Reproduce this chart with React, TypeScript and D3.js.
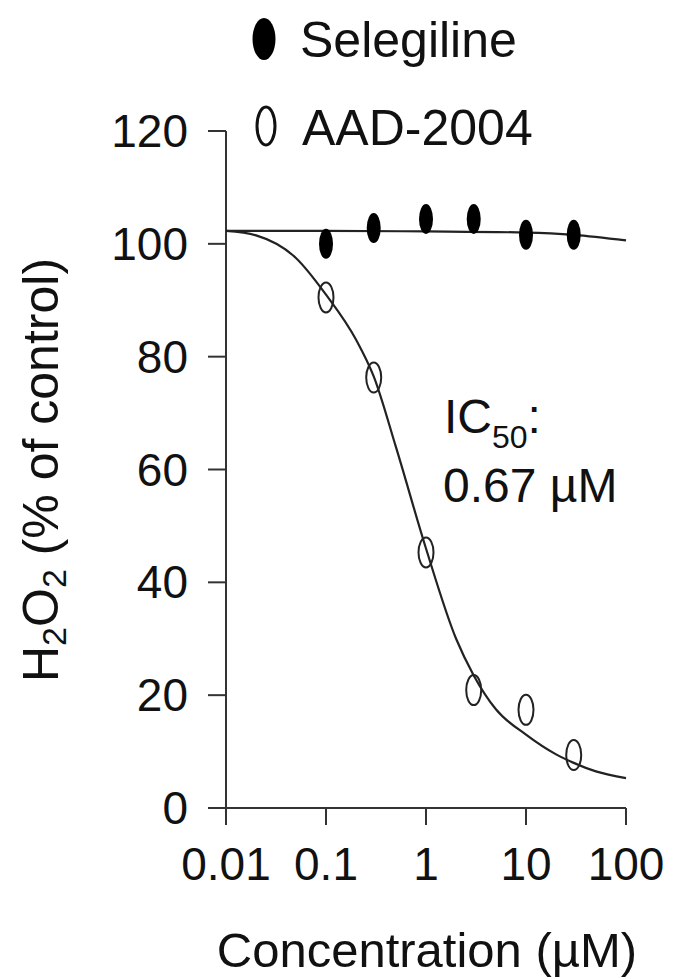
import React from "react";
import * as d3 from "d3";

const concentrations = [0.1, 0.3, 1, 3, 10, 30];
const selegiline = [100, 102.8, 104.4, 104.4, 101.6, 101.6];
const aad2004 = [90.5, 76.3, 45.3, 20.9, 17.4, 9.4];

// fitted curves: [concentration, value]
const selegilineFit: [number, number][] = [
  [0.01, 102.3], [0.1, 102.3], [1, 102.2], [10, 102.0], [30, 101.6], [100, 100.6],
];
const aadFit: [number, number][] = [
  [0.01, 102.3], [0.02, 101.5], [0.05, 97.5], [0.1, 91], [0.2, 83], [0.3, 76.5],
  [0.5, 64], [1, 46], [2, 30], [3, 23.5], [5, 17.5], [10, 13], [20, 9.5],
  [30, 8], [50, 6.5], [100, 5.3],
];

const xTicks = [0.01, 0.1, 1, 10, 100];
const xTickLabels = ["0.01", "0.1", "1", "10", "100"];
const yTicks = [0, 20, 40, 60, 80, 100, 120];

const W = 674;
const H = 979;
const FONT = "'Liberation Sans', Arial, Helvetica, sans-serif";
const INK = "#111";
const AXIS = "#333";

export default function App() {
  const x = d3.scaleLog().domain([0.01, 100]).range([226, 626]);
  const y = d3.scaleLinear().domain([0, 120]).range([808, 131]);
  const line = d3
    .line<[number, number]>()
    .x((d) => x(d[0]))
    .y((d) => y(d[1]))
    .curve(d3.curveMonotoneX);

  return (
    <svg
      width={W}
      height={H}
      style={{ position: "absolute", left: 0, top: 0, background: "#fff" }}
      fontFamily={FONT}
    >
      <rect x={0} y={0} width={W} height={H} fill="#fff" />
      {/* axes */}
      <line x1={x(0.01)} x2={x(0.01)} y1={y(120)} y2={y(0)} stroke={AXIS} strokeWidth={2} />
      <line x1={x(0.01) - 18} x2={x(100)} y1={y(0)} y2={y(0)} stroke={AXIS} strokeWidth={2} />
      {yTicks.map((t) => (
        <g key={"y" + t}>
          <line x1={x(0.01) - 18} x2={x(0.01)} y1={y(t)} y2={y(t)} stroke={AXIS} strokeWidth={2} />
          <text
            x={188}
            y={y(t)}
            textAnchor="end"
            dominantBaseline="central"
            fontSize={46}
            fill={INK}
          >
            {t}
          </text>
        </g>
      ))}
      {xTicks.map((t, i) => (
        <g key={"x" + t}>
          <line x1={x(t)} x2={x(t)} y1={y(0)} y2={y(0) + 17} stroke={AXIS} strokeWidth={2} />
          <text x={x(t)} y={880} textAnchor="middle" fontSize={46} fill={INK}>
            {xTickLabels[i]}
          </text>
        </g>
      ))}
      {/* axis titles */}
      <text x={427} y={967} textAnchor="middle" fontSize={49} fill={INK}>
        Concentration (µM)
      </text>
      <text
        transform={`translate(58, 470) rotate(-90)`}
        textAnchor="middle"
        fontSize={50}
        fill={INK}
      >
        H<tspan fontSize={34} dy={8}>2</tspan>
        <tspan dy={-8}>O</tspan>
        <tspan fontSize={34} dy={8}>2</tspan>
        <tspan dy={-8}> (% of control)</tspan>
      </text>

      {/* fitted curves */}
      <path d={line(selegilineFit) || ""} fill="none" stroke="#222" strokeWidth={2.2} />
      <path d={line(aadFit) || ""} fill="none" stroke="#222" strokeWidth={2.2} />

      {/* data points */}
      {concentrations.map((c, i) => (
        <ellipse key={"s" + c} cx={x(c)} cy={y(selegiline[i])} rx={7} ry={15} fill="#000" />
      ))}
      {concentrations.map((c, i) => (
        <ellipse
          key={"a" + c}
          cx={x(c)}
          cy={y(aad2004[i])}
          rx={7.5}
          ry={15}
          fill="none"
          stroke="#222"
          strokeWidth={2}
        />
      ))}

      {/* IC50 annotation */}
      <text x={444} y={433} fontSize={48} fill={INK}>
        IC<tspan fontSize={32} dy={15}>50</tspan>
        <tspan dy={-15}>:</tspan>
      </text>
      <text x={443} y={502} fontSize={48} fill={INK}>
        0.67 µM
      </text>

      {/* legend */}
      <ellipse cx={264} cy={39} rx={11.5} ry={21} fill="#000" />
      <text x={300} y={57} fontSize={50} fill={INK}>
        Selegiline
      </text>
      <ellipse cx={266} cy={126} rx={9} ry={19} fill="none" stroke="#111" strokeWidth={3} />
      <text x={302} y={145} fontSize={50} fill={INK}>
        AAD-2004
      </text>
    </svg>
  );
}
